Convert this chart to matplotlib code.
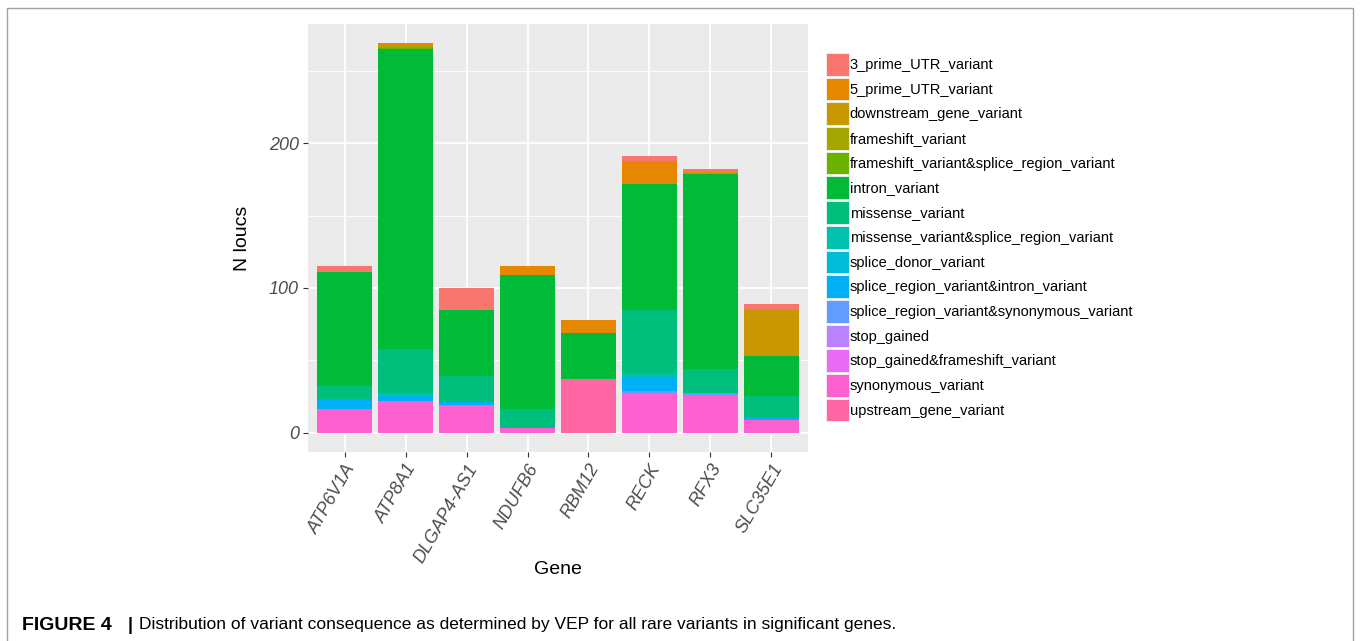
import matplotlib
matplotlib.use("Agg")
import numpy as np
import matplotlib.pyplot as plt
from matplotlib.patches import Patch, Rectangle

plt.rcParams['font.family'] = ['Liberation Sans', 'DejaVu Sans']

genes = ["ATP6V1A", "ATP8A1", "DLGAP4-AS1", "NDUFB6", "RBM12", "RECK", "RFX3", "SLC35E1"]

consequences = [
    "3_prime_UTR_variant",
    "5_prime_UTR_variant",
    "downstream_gene_variant",
    "frameshift_variant",
    "frameshift_variant&splice_region_variant",
    "intron_variant",
    "missense_variant",
    "missense_variant&splice_region_variant",
    "splice_donor_variant",
    "splice_region_variant&intron_variant",
    "splice_region_variant&synonymous_variant",
    "stop_gained",
    "stop_gained&frameshift_variant",
    "synonymous_variant",
    "upstream_gene_variant",
]

# ggplot2 default hue palette, 15 levels
colors = ["#F8766D", "#E58700", "#C99800", "#A3A500", "#6BB100", "#00BA38", "#00BF7D",
          "#00C0AF", "#00BCD8", "#00B0F6", "#619CFF", "#B983FF", "#E76BF3", "#FD61D1", "#FF67A4"]

# counts per gene (same order as genes)
utr3 = [4, 0, 15, 0, 0, 3, 2, 4]
utr5 = [0, 1, 0, 6, 9, 16, 1, 0]
downstream = [0, 1, 0, 0, 0, 0, 0, 32]
frameshift = [0, 1, 0, 0, 0, 0, 0, 0]
frameshift_splice = [0, 1, 0, 0, 0, 0, 0, 0]
intron = [79, 207, 46, 93, 32, 87, 135, 28]
missense = [9, 31, 18, 13, 0, 44, 17, 15]
missense_splice = [0, 2, 0, 0, 0, 3, 0, 0]
splice_donor = [0, 0, 0, 0, 0, 0, 0, 0]
splice_intron = [7, 3, 2, 0, 0, 9, 0, 1]
splice_synonymous = [0, 0, 0, 0, 0, 2, 1, 0]
stop_gained = [0, 0, 0, 0, 0, 0, 0, 0]
stop_gained_fs = [0, 0, 0, 0, 0, 0, 0, 0]
synonymous = [16, 22, 19, 3, 0, 27, 26, 9]
upstream = [0, 0, 0, 0, 37, 0, 0, 0]

counts = [utr3, utr5, downstream, frameshift, frameshift_splice, intron, missense,
          missense_splice, splice_donor, splice_intron, splice_synonymous, stop_gained,
          stop_gained_fs, synonymous, upstream]

fig = plt.figure(figsize=(13.6, 6.41), dpi=100)
ax = fig.add_axes([308 / 1360, 189 / 641, 500 / 1360, 428 / 641])
ax.set_facecolor("#EBEBEB")
for s in ax.spines.values():
    s.set_visible(False)

x = np.arange(1, len(genes) + 1)
# ggplot stacks the first level on top, so draw from the last level upward
bottom = np.zeros(len(genes))
for name, col, vals in reversed(list(zip(consequences, colors, counts))):
    vals = np.array(vals, dtype=float)
    ax.bar(x, vals, width=0.9, bottom=bottom, color=col, linewidth=0, zorder=3)
    bottom += vals

top = bottom.max()
ax.set_xlim(0.4, len(genes) + 0.6)
ax.set_ylim(-0.05 * top, 1.05 * top)

ax.set_yticks([0, 100, 200])
ax.set_yticklabels(["0", "100", "200"], fontsize=13, fontstyle="italic")
ax.set_yticks([50, 150, 250], minor=True)
ax.set_xticks(x)
ax.set_xticklabels(genes, fontsize=13, fontstyle="italic", rotation=60,
                   ha="right", va="top", rotation_mode="anchor")
ax.tick_params(axis="both", which="major", length=3.5, width=0.8, color="#333333",
               labelcolor="#4D4D4D", pad=3)
ax.tick_params(axis="y", which="minor", length=0)

ax.grid(which="major", color="white", linewidth=1.3, zorder=0)
ax.grid(which="minor", axis="y", color="white", linewidth=0.6, zorder=0)
ax.set_axisbelow(True)

ax.set_ylabel("N loucs", fontsize=14)
ax.yaxis.set_label_coords(-0.114, 0.5)
ax.set_xlabel("Gene", fontsize=14)
ax.xaxis.set_label_coords(0.5, -0.255)

handles = [Patch(facecolor=c, edgecolor="#F2F2F2", linewidth=0.6) for c in colors]
fig.legend(handles, consequences, loc="upper left", bbox_to_anchor=(826 / 1360, 1 - 53 / 641),
           frameon=False, fontsize=10.5, handlelength=1.55, handleheight=2.02,
           handletextpad=0.08, labelspacing=0.135, borderaxespad=0, borderpad=0)

# outer frame
fig.patches.append(Rectangle((7 / 1360, -0.1), 1346 / 1360, 0.1 + 633 / 641, fill=False,
                             edgecolor="#A0A0A0", linewidth=1, transform=fig.transFigure))

fig.text(22 / 1360, 16 / 641, "FIGURE 4", fontsize=14, fontweight="bold", va="center")
fig.text(128 / 1360, 16 / 641, "|", fontsize=13, fontweight="bold", va="center")
fig.text(139 / 1360, 16 / 641,
         "Distribution of variant consequence as determined by VEP for all rare variants in significant genes.",
         fontsize=12.5, va="center")

fig.savefig("out.png", dpi=100)
